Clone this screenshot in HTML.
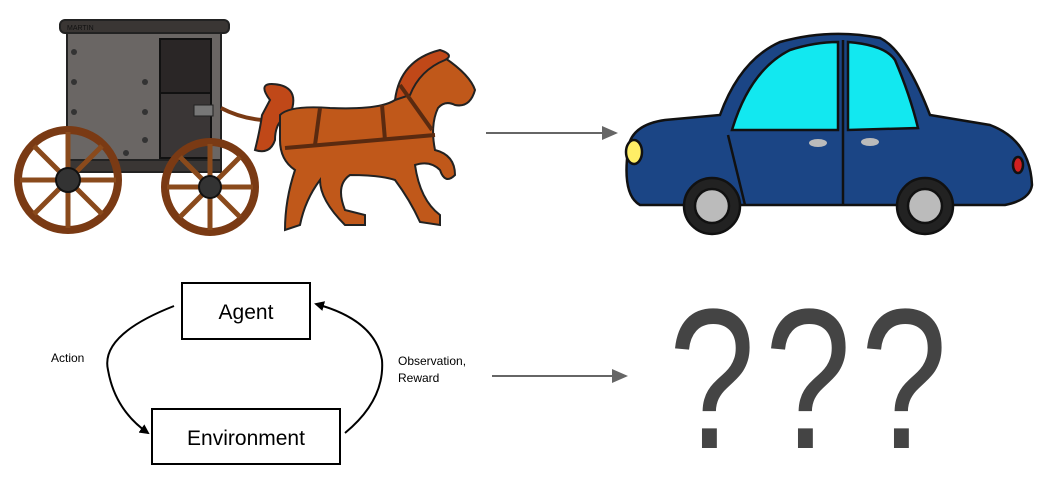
<!DOCTYPE html>
<html><head><style>
html,body{margin:0;padding:0;background:#fff;width:1045px;height:478px;overflow:hidden}
svg{display:block}
</style></head><body>
<svg width="1045" height="478" viewBox="0 0 1045 478" xmlns="http://www.w3.org/2000/svg">
<defs>
<marker id="a" markerWidth="10" markerHeight="10" refX="8" refY="5" orient="auto" markerUnits="userSpaceOnUse"><path d="M0,0 L10,5 L0,10 z" fill="#000"/></marker>
<marker id="g" markerWidth="16" markerHeight="14" refX="14" refY="7" orient="auto" markerUnits="userSpaceOnUse"><path d="M0,0 L16,7 L0,14 z" fill="#666"/></marker>
</defs>
<!-- carriage -->
<rect x="67" y="28" width="154" height="140" fill="#6a6664" stroke="#222" stroke-width="2"/>
<rect x="60" y="20" width="169" height="13" rx="5" fill="#3a3634" stroke="#222" stroke-width="2"/>
<text x="67" y="30" font-family="Liberation Sans,sans-serif" font-size="7" fill="#111">MARTIN</text>
<rect x="160" y="39" width="51" height="54" fill="#2a2626" stroke="#111" stroke-width="2"/>
<rect x="160" y="93" width="51" height="65" fill="#3a3636" stroke="#111" stroke-width="2"/>
<rect x="194" y="105" width="19" height="11" fill="#777" stroke="#222"/>
<rect x="67" y="160" width="154" height="12" fill="#3a3634" stroke="#222" stroke-width="2"/>
<g fill="#333"><circle cx="74" cy="52" r="3"/><circle cx="74" cy="82" r="3"/><circle cx="74" cy="112" r="3"/><circle cx="145" cy="82" r="3"/><circle cx="145" cy="112" r="3"/><circle cx="145" cy="140" r="3"/><circle cx="126" cy="153" r="3"/></g>
<path d="M221,108 Q240,118 262,120" stroke="#7a3a14" stroke-width="4" fill="none"/>
<g stroke="#8a4a1c" stroke-width="5" fill="none">
<circle cx="68" cy="180" r="50" stroke="#7a3a14" stroke-width="8"/>
<line x1="68" y1="132" x2="68" y2="228"/><line x1="20" y1="180" x2="116" y2="180"/><line x1="34" y1="146" x2="102" y2="214"/><line x1="102" y1="146" x2="34" y2="214"/>
<circle cx="210" cy="187" r="45" stroke="#7a3a14" stroke-width="8"/>
<line x1="210" y1="144" x2="210" y2="230"/><line x1="167" y1="187" x2="253" y2="187"/><line x1="180" y1="157" x2="240" y2="217"/><line x1="240" y1="157" x2="180" y2="217"/>
</g>
<circle cx="68" cy="180" r="12" fill="#333" stroke="#111" stroke-width="2"/>
<circle cx="210" cy="187" r="11" fill="#333" stroke="#111" stroke-width="2"/>
<!-- horse -->
<g stroke="#222" stroke-width="2" fill="#c0581a">
<path d="M270,100 Q255,80 280,85 Q300,90 290,115 Q275,120 275,140 Q270,155 255,150 Q260,130 262,115 Z" fill="#c04818"/>
<path d="M280,115 Q290,105 330,108 Q380,110 395,100 Q410,80 420,65 Q430,55 445,58 Q470,75 475,90 Q470,108 455,105 Q445,100 438,108 Q430,125 435,150 Q455,155 455,175 Q445,185 440,170 Q430,160 415,165 Q420,200 440,215 L440,225 L420,222 Q410,200 395,180 Q380,175 350,175 Q335,185 345,210 L365,215 L365,225 L345,225 Q320,200 320,180 Q305,200 300,225 L285,230 Q285,200 295,170 Q280,160 280,140 Z"/>
<path d="M395,100 Q400,60 440,50 Q455,55 445,60 Q420,70 410,95 Z" fill="#c04818"/>
</g>
<g stroke="#5a2a10" stroke-width="4" fill="none"><line x1="285" y1="148" x2="435" y2="135"/><line x1="320" y1="108" x2="315" y2="145"/><line x1="382" y1="105" x2="385" y2="140"/><line x1="400" y1="85" x2="432" y2="130"/></g>
<!-- arrows -->
<line x1="486" y1="133" x2="616" y2="133" stroke="#666" stroke-width="2" marker-end="url(#g)"/>
<line x1="492" y1="376" x2="626" y2="376" stroke="#666" stroke-width="2" marker-end="url(#g)"/>
<!-- car -->
<g stroke="#111" stroke-width="2.5">
<path d="M628,150 Q630,125 665,120 L720,115 Q740,60 780,42 Q830,28 880,38 Q905,50 930,115 L990,125 Q1030,140 1032,185 Q1030,200 1005,205 L640,205 Q622,195 628,150 Z" fill="#1b4585"/>
<path d="M732,130 Q750,70 790,50 Q815,42 838,42 L838,130 Z" fill="#12e8f0"/>
<path d="M848,42 Q885,45 895,60 Q910,95 918,128 L848,130 Z" fill="#12e8f0"/>
<line x1="728" y1="135" x2="745" y2="205"/><line x1="843" y1="40" x2="843" y2="205"/>
<circle cx="712" cy="206" r="28" fill="#222"/><circle cx="712" cy="206" r="17" fill="#bbb"/>
<circle cx="925" cy="206" r="28" fill="#222"/><circle cx="925" cy="206" r="17" fill="#bbb"/>
<ellipse cx="634" cy="152" rx="8" ry="12" fill="#ffee66"/>
<ellipse cx="1018" cy="165" rx="5" ry="8" fill="#d02020"/>
</g>
<ellipse cx="818" cy="143" rx="9" ry="4" fill="#bbb"/><ellipse cx="870" cy="142" rx="9" ry="4" fill="#bbb"/>
<!-- RL diagram -->
<rect x="182" y="283" width="128" height="56" fill="#fff" stroke="#000" stroke-width="2"/>
<rect x="152" y="409" width="188" height="55" fill="#fff" stroke="#000" stroke-width="2"/>
<g font-family="Liberation Sans,sans-serif" fill="#000">
<text x="246" y="319" font-size="21" text-anchor="middle">Agent</text>
<text x="246" y="445" font-size="21" text-anchor="middle">Environment</text>
<text x="51" y="362" font-size="12">Action</text>
<text x="398" y="365" font-size="12">Observation,</text>
<text x="398" y="382" font-size="12">Reward</text>
</g>
<path d="M174,306 Q100,335 108,370 Q115,410 148,433" stroke="#000" stroke-width="2" fill="none" marker-end="url(#a)"/>
<path d="M345,433 Q385,400 382,360 Q375,320 316,304" stroke="#000" stroke-width="2" fill="none" marker-end="url(#a)"/>
<g font-family="Liberation Sans,sans-serif" font-size="200" fill="#444" text-anchor="middle">
<text transform="translate(712,448) scale(0.78,1)">?</text>
<text transform="translate(808,448) scale(0.78,1)">?</text>
<text transform="translate(904,448) scale(0.78,1)">?</text>
</g>
</svg>
</body></html>
